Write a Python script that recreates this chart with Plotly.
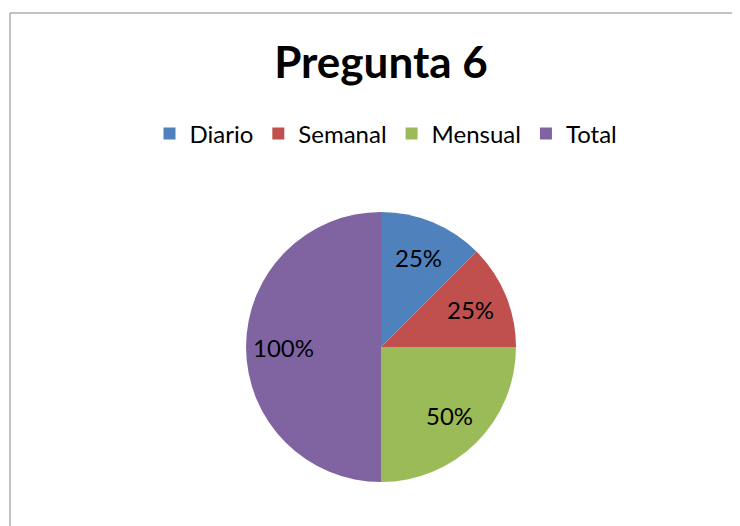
import math
import plotly.graph_objects as go

categories = ["Diario", "Semanal", "Mensual", "Total"]
values = [25, 25, 50, 100]
colors = ["#4F81BD", "#C0504D", "#9BBB59", "#8064A2"]

OFF = 8  # page body margin
W, H = 740 - OFF, 526 - OFF
cx, cy, r = 381 - OFF, 347 - OFF, 135
label_frac = 0.72
FONT = "Lato, Carlito, sans-serif"

fig = go.Figure(go.Pie(
    labels=categories,
    values=values,
    textinfo="none",
    hoverinfo="label+value",
    sort=False,
    direction="clockwise",
    rotation=0,
    marker=dict(colors=colors, line=dict(width=0)),
    domain=dict(x=[(cx - r) / W, (cx + r) / W], y=[1 - (cy + r) / H, 1 - (cy - r) / H]),
))

# data labels placed along each slice's mid-angle (as the source chart does)
total = sum(values)
annotations = []
cum = 0
for v in values:
    mid = (cum + v / 2) / total * 2 * math.pi
    cum += v
    px = cx + label_frac * r * math.sin(mid)
    py = cy - label_frac * r * math.cos(mid)
    annotations.append(dict(x=px / W, y=1 - py / H, xref="paper", yref="paper", text=f"{v}%",
                            showarrow=False, xanchor="center", yanchor="middle",
                            font=dict(family=FONT, size=24, color="black")))

fig.update_layout(
    width=W, height=H,
    margin=dict(l=0, r=0, t=0, b=0),
    paper_bgcolor="white",
    plot_bgcolor="white",
    font=dict(family=FONT, color="black"),
    title=dict(text="<b>Pregunta 6</b>", x=cx / W, xanchor="center", y=1 - (63 - OFF) / H, yanchor="middle",
               font=dict(size=44, family=FONT, color="black")),
    showlegend=True,
    legend=dict(orientation="h", x=(386 - OFF) / W, xanchor="center", y=1 - (134 - OFF) / H, yanchor="middle",
                font=dict(size=24), itemsizing="constant", traceorder="normal"),
    annotations=annotations,
    shapes=[dict(type="rect", xref="paper", yref="paper", x0=(10 - OFF) / W, x1=1.05, y0=-0.05,
                 y1=1 - (13 - OFF) / H,
                 line=dict(color="#868686", width=1), fillcolor="rgba(0,0,0,0)", layer="below")],
)

fig.write_html("out.html")
